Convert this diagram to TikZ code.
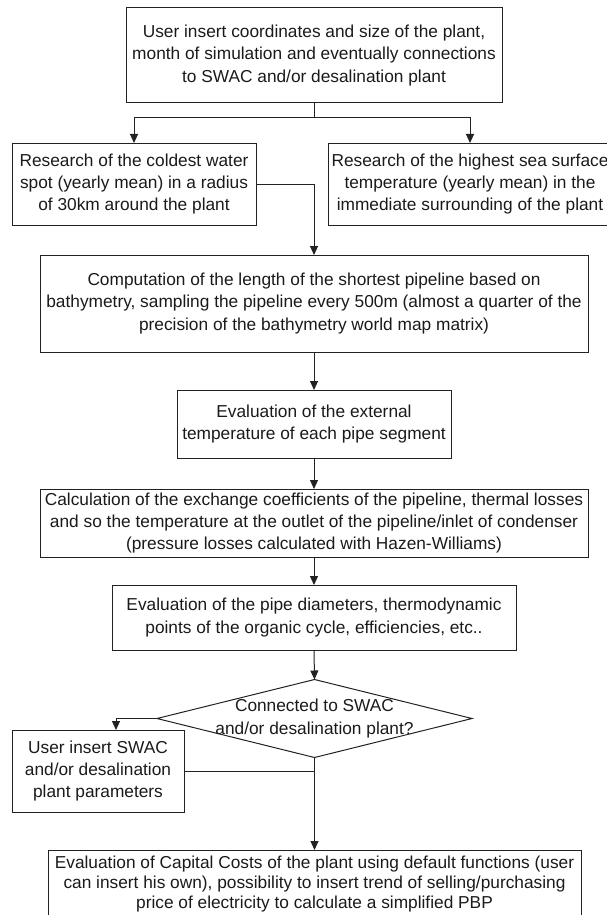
\documentclass[tikz,border=0pt]{standalone}
\usepackage{fontspec}
\setmainfont{Liberation Sans}
\usetikzlibrary{shapes.geometric,arrows.meta}
\definecolor{ln}{HTML}{222222}
\definecolor{tx}{HTML}{1A1A1A}
\begin{document}
\begin{tikzpicture}[x=1pt,y=-1pt,
  box/.style={draw=ln, line width=1pt, rectangle, inner sep=0pt, outer sep=0pt,
    align=center, text=tx, font=\fontsize{17.3}{22.3}\selectfont},
  lbl/.style={inner sep=0pt, align=center, text=tx, font=\fontsize{17.3}{22.3}\selectfont},
  arr/.style={draw=ln, line width=1pt, -{Triangle[length=9pt,width=8pt]}},
  conn/.style={draw=ln, line width=1pt}]
\useasboundingbox (0,0) rectangle (607,915);

\node[box, minimum width=376, minimum height=95] (top) at (314,55.5)
  {User insert coordinates and size of the plant,\\month of simulation and eventually connections\\to SWAC and/or desalination plant};
\node[box, minimum width=244, minimum height=82] (left) at (134,184)
  {Research of the coldest water\\spot (yearly mean) in a radius\\of 30km around the plant};
\node[box, minimum width=284, minimum height=82] (right) at (470,184)
  {Research of the highest sea surface\\temperature (yearly mean) in the\\immediate surrounding of the plant};
\node[box, minimum width=548, minimum height=97] (comp) at (314,303.5)
  {Computation of the length of the shortest pipeline based on\\bathymetry, sampling the pipeline every 500m (almost a quarter of the\\precision of the bathymetry world map matrix)};
\node[box, minimum width=274, minimum height=68] (eval) at (314,424)
  {Evaluation of the external\\temperature of each pipe segment};
\node[box, minimum width=548, minimum height=68] (calc) at (314,523)
  {Calculation of the exchange coefficients of the pipeline, thermal losses\\and so the temperature at the outlet of the pipeline/inlet of condenser\\(pressure losses calculated with Hazen-Williams)};
\node[box, minimum width=404, minimum height=65] (evaltwo) at (314,617.5)
  {Evaluation of the pipe diameters, thermodynamic\\points of the organic cycle, efficiencies, etc..};
\node[draw=ln, line width=1pt, diamond, inner sep=0pt, outer sep=0pt,
  minimum width=315, minimum height=78] (dec) at (314.5,718.5) {};
\node[lbl] (dectext) at (dec.center) {Connected to SWAC\\and/or desalination plant?};
\node[box, minimum width=172, minimum height=82] (user) at (98,771)
  {User insert SWAC\\and/or desalination\\plant parameters};
\node[box, minimum width=533, minimum height=68, font=\fontsize{17.3}{19.8}\selectfont] (final) at (314.5,884)
  {Evaluation of Capital Costs of the plant using default functions (user\\can insert his own), possibility to insert trend of selling/purchasing\\price of electricity to calculate a simplified PBP};

\draw[conn] (top.south) -- ++(0,15) coordinate (sp);
\draw[arr] (sp) -| (left.north);
\draw[arr] (sp) -| (right.north);
\draw[arr] (left.east) -| (comp.north);
\draw[arr] (comp.south) -- (eval.north);
\draw[arr] (eval.south) -- (calc.north);
\draw[arr] (calc.south) -- (evaltwo.north);
\draw[arr] (evaltwo.south) -- (dec.north);
\draw[arr] (dec.west) -| ([xshift=18pt]user.north);
\draw[arr] (dec.south) -- (final.north);
\draw[conn] (user.east) -- (user.east -| dec.south);
\end{tikzpicture}
\end{document}
